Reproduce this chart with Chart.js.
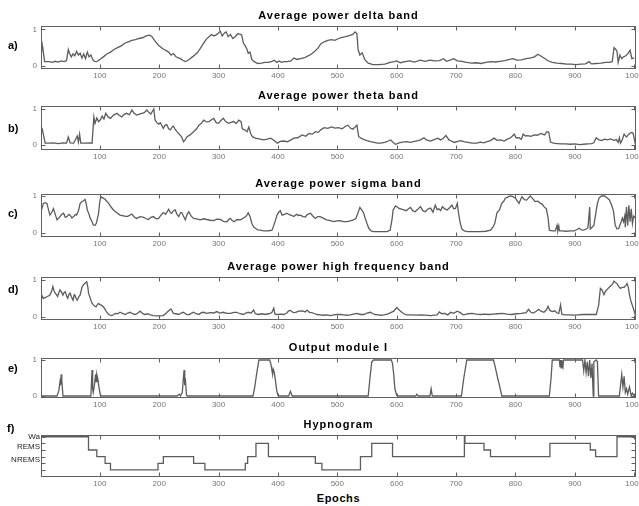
<!DOCTYPE html>
<html><head><meta charset="utf-8">
<script src="https://cdn.jsdelivr.net/npm/chart.js@4.4.1/dist/chart.umd.min.js"></script>
<style>
html,body{margin:0;padding:0;background:#fff;}
#wrap{position:relative;width:639px;height:506px;overflow:hidden;background:#fff;}
#wrap canvas{position:absolute;left:0;}
.lab{position:absolute;font:bold 11px "Liberation Sans",Arial,sans-serif;color:#000;line-height:12px;}
.ttl{position:absolute;left:41px;width:595px;text-align:center;font:bold 11px "Liberation Sans",Arial,sans-serif;color:#000;line-height:12px;letter-spacing:1px;white-space:nowrap;}
</style></head><body><div id="wrap"></div>
<script>
// ---------- DATA ----------
const titles = ['Average power delta band','Average power theta band','Average power sigma band','Average power high frequency band','Output module I','Hypnogram'];
const panelLetters = ['a)','b)','c)','d)','e)','f)'];
const epochTicks = [100,200,300,400,500,600,700,800,900,1000];
const unitTicks = [0,1];
const hypnoLevels = [1,2,3,4,5,6];
const hypnoLabelLevels = [2.5,4.5,6];
const hypnoLabelText = ['NREMS','REMS','Wa'];
const xAxisTitle = 'Epochs';

const deltaBand = [[1,0.4],[2,0.68],[4,0.5],[7,0.12],[15,0.12],[20,0.1],[25,0.13],[30,0.11],[35,0.14],[40,0.12],[44,0.15],[47,0.45],[49,0.35],[52,0.25],[55,0.33],[58,0.28],[61,0.4],[64,0.3],[67,0.35],[70,0.22],[73,0.33],[76,0.2],[79,0.38],[82,0.25],[85,0.3],[88,0.18],[91,0.13],[95,0.12],[100,0.18],[106,0.25],[112,0.33],[118,0.38],[124,0.45],[130,0.5],[136,0.55],[142,0.62],[148,0.66],[154,0.7],[160,0.72],[166,0.75],[172,0.77],[178,0.82],[184,0.84],[188,0.8],[192,0.7],[196,0.62],[200,0.55],[204,0.5],[208,0.45],[212,0.42],[216,0.38],[220,0.3],[224,0.34],[228,0.26],[232,0.22],[236,0.2],[240,0.15],[244,0.12],[248,0.15],[252,0.2],[256,0.25],[260,0.3],[264,0.36],[268,0.45],[272,0.55],[276,0.65],[280,0.74],[284,0.8],[288,0.86],[292,0.82],[296,0.85],[300,0.9],[303,0.95],[306,0.82],[310,0.9],[313,0.93],[316,0.8],[320,0.86],[324,0.75],[328,0.8],[332,0.88],[336,0.87],[339,0.84],[342,0.62],[345,0.55],[348,0.45],[350,0.35],[353,0.38],[356,0.18],[360,0.12],[366,0.07],[372,0.08],[378,0.1],[384,0.1],[390,0.13],[394,0.16],[398,0.1],[402,0.14],[406,0.1],[410,0.12],[416,0.12],[422,0.14],[427,0.22],[432,0.18],[438,0.2],[444,0.22],[450,0.27],[456,0.32],[462,0.4],[468,0.5],[472,0.6],[478,0.66],[484,0.7],[490,0.72],[496,0.7],[502,0.75],[508,0.78],[514,0.8],[520,0.83],[526,0.86],[530,0.93],[533,0.88],[535,0.45],[538,0.3],[542,0.36],[546,0.18],[552,0.08],[560,0.04],[570,0.04],[580,0.05],[589,0.1],[596,0.12],[600,0.14],[606,0.09],[614,0.12],[622,0.14],[630,0.11],[640,0.16],[648,0.13],[656,0.16],[664,0.14],[672,0.15],[679,0.2],[684,0.13],[690,0.16],[696,0.2],[702,0.14],[710,0.13],[718,0.1],[726,0.08],[734,0.09],[742,0.07],[750,0.1],[758,0.12],[766,0.11],[774,0.13],[782,0.15],[790,0.18],[796,0.2],[802,0.16],[810,0.17],[818,0.2],[826,0.22],[832,0.25],[838,0.32],[842,0.28],[848,0.22],[854,0.15],[862,0.1],[870,0.08],[878,0.07],[886,0.05],[894,0.05],[902,0.04],[910,0.05],[918,0.06],[924,0.12],[928,0.06],[936,0.07],[944,0.08],[952,0.1],[958,0.1],[963,0.12],[966,0.5],[969,0.45],[971,0.4],[973,0.1],[976,0.3],[979,0.2],[982,0.25],[986,0.28],[990,0.35],[993,0.43],[996,0.2],[1000,0.22]];

const thetaBand = [[1,0.5],[3,0.45],[8,0.05],[15,0.05],[22,0.06],[30,0.04],[38,0.06],[44,0.05],[47,0.22],[50,0.06],[56,0.05],[62,0.25],[64,0.08],[66,0.3],[68,0.05],[75,0.05],[82,0.06],[87,0.05],[90,0.78],[92,0.6],[95,0.75],[98,0.65],[101,0.7],[104,0.8],[107,0.72],[110,0.88],[114,0.78],[118,0.74],[123,0.83],[129,0.88],[133,0.82],[137,0.78],[141,0.85],[145,0.88],[150,0.84],[154,0.97],[158,0.88],[162,0.83],[167,0.86],[171,0.88],[175,0.9],[179,0.97],[183,0.9],[186,0.86],[191,1.0],[193,0.7],[196,0.62],[199,0.58],[202,0.62],[207,0.46],[210,0.55],[213,0.56],[216,0.45],[219,0.42],[222,0.5],[224,0.52],[227,0.43],[230,0.37],[235,0.28],[238,0.22],[241,0.09],[244,0.15],[247,0.23],[252,0.28],[258,0.37],[263,0.45],[267,0.55],[271,0.6],[275,0.69],[280,0.64],[284,0.65],[288,0.7],[292,0.74],[296,0.62],[300,0.6],[304,0.68],[308,0.74],[312,0.65],[317,0.6],[321,0.63],[325,0.65],[330,0.6],[334,0.69],[338,0.65],[340,0.45],[344,0.42],[348,0.37],[351,0.5],[354,0.32],[357,0.23],[362,0.19],[368,0.17],[376,0.14],[382,0.16],[388,0.19],[394,0.12],[399,0.05],[404,0.1],[410,0.11],[416,0.09],[422,0.14],[427,0.19],[433,0.2],[441,0.28],[447,0.24],[452,0.32],[458,0.3],[463,0.37],[468,0.35],[472,0.42],[478,0.48],[484,0.46],[490,0.5],[496,0.47],[502,0.48],[508,0.45],[514,0.52],[518,0.55],[522,0.47],[526,0.44],[530,0.5],[533,0.55],[536,0.23],[540,0.19],[545,0.15],[550,0.12],[556,0.09],[562,0.07],[568,0.05],[573,0.05],[580,0.07],[586,0.11],[590,0.14],[594,0.07],[598,0.02],[604,0.06],[610,0.08],[617,0.09],[623,0.07],[630,0.1],[636,0.12],[640,0.14],[646,0.2],[650,0.14],[657,0.11],[663,0.15],[669,0.19],[674,0.14],[678,0.18],[683,0.26],[688,0.14],[692,0.11],[697,0.07],[703,0.1],[708,0.12],[713,0.09],[720,0.07],[727,0.05],[735,0.05],[741,0.08],[747,0.06],[752,0.09],[758,0.12],[764,0.19],[769,0.13],[775,0.14],[781,0.11],[787,0.17],[792,0.2],[798,0.3],[801,0.2],[806,0.2],[810,0.16],[813,0.3],[817,0.25],[821,0.26],[826,0.24],[832,0.28],[837,0.27],[843,0.32],[849,0.28],[853,0.37],[856,0.36],[859,0.08],[864,0.05],[870,0.04],[877,0.03],[885,0.03],[892,0.02],[900,0.03],[908,0.01],[915,0.02],[922,0.03],[928,0.04],[932,0.06],[936,0.2],[940,0.15],[945,0.12],[950,0.16],[955,0.14],[960,0.17],[966,0.13],[970,0.15],[973,0.07],[975,0.2],[977,0.05],[980,0.15],[983,0.3],[987,0.22],[991,0.3],[995,0.35],[998,0.33],[1002,0.02]];

const sigmaBand = [[1,0.57],[5,0.8],[8,0.82],[11,0.8],[14,0.6],[16,0.48],[19,0.55],[22,0.66],[25,0.5],[28,0.35],[31,0.4],[33,0.44],[36,0.5],[39,0.53],[42,0.42],[45,0.44],[48,0.5],[50,0.48],[53,0.4],[56,0.44],[59,0.5],[61,0.48],[64,0.6],[67,0.8],[70,0.85],[73,0.87],[75,0.91],[77,0.8],[79,0.62],[82,0.5],[84,0.39],[87,0.3],[89,0.21],[92,0.2],[94,0.25],[96,0.38],[98,0.53],[100,0.85],[102,0.98],[105,0.95],[109,0.91],[112,0.85],[115,0.8],[119,0.7],[123,0.62],[128,0.55],[134,0.48],[140,0.46],[146,0.44],[150,0.47],[154,0.51],[158,0.43],[162,0.39],[168,0.44],[174,0.42],[178,0.38],[182,0.36],[186,0.42],[190,0.44],[195,0.38],[199,0.39],[203,0.48],[207,0.55],[211,0.5],[216,0.64],[219,0.55],[221,0.53],[224,0.6],[227,0.62],[230,0.5],[233,0.44],[236,0.55],[238,0.55],[241,0.45],[244,0.35],[247,0.5],[250,0.57],[254,0.45],[258,0.39],[263,0.38],[269,0.35],[275,0.38],[280,0.36],[286,0.34],[292,0.33],[297,0.37],[303,0.36],[308,0.31],[314,0.3],[317,0.36],[320,0.39],[323,0.33],[326,0.3],[331,0.36],[337,0.35],[342,0.4],[346,0.44],[350,0.54],[353,0.44],[356,0.26],[359,0.16],[362,0.12],[366,0.08],[370,0.07],[376,0.05],[382,0.05],[387,0.06],[390,0.07],[393,0.2],[396,0.35],[399,0.5],[402,0.57],[404,0.6],[407,0.48],[411,0.5],[415,0.53],[419,0.49],[423,0.47],[427,0.44],[431,0.5],[435,0.47],[438,0.48],[442,0.44],[446,0.43],[450,0.5],[455,0.53],[459,0.45],[463,0.39],[467,0.44],[471,0.44],[477,0.39],[482,0.35],[488,0.33],[494,0.3],[499,0.32],[505,0.33],[510,0.3],[516,0.3],[522,0.32],[527,0.35],[531,0.38],[534,0.5],[538,0.69],[541,0.62],[544,0.55],[547,0.39],[550,0.25],[553,0.12],[557,0.05],[561,0.03],[570,0.03],[578,0.03],[584,0.03],[589,0.07],[592,0.35],[594,0.62],[598,0.73],[601,0.7],[604,0.66],[608,0.64],[612,0.62],[616,0.6],[620,0.65],[623,0.69],[627,0.6],[631,0.57],[635,0.63],[640,0.71],[644,0.6],[648,0.57],[652,0.64],[657,0.67],[661,0.56],[665,0.75],[668,0.63],[671,0.65],[674,0.6],[677,0.71],[681,0.65],[685,0.62],[689,0.68],[693,0.75],[696,0.65],[699,0.66],[702,0.8],[704,0.55],[706,0.35],[708,0.2],[710,0.09],[714,0.05],[719,0.03],[730,0.03],[741,0.03],[750,0.04],[758,0.07],[762,0.15],[765,0.25],[769,0.55],[773,0.62],[777,0.8],[780,0.85],[783,0.94],[787,0.97],[791,1.0],[795,0.99],[800,0.94],[803,0.87],[806,0.8],[809,0.92],[811,0.98],[815,0.9],[819,0.89],[822,0.95],[825,1.0],[829,0.93],[833,0.85],[838,0.86],[842,0.8],[845,0.78],[848,0.71],[852,0.65],[855,0.4],[857,0.07],[862,0.05],[867,0.05],[870,0.2],[871,0.05],[873,0.18],[874,0.05],[878,0.05],[885,0.04],[893,0.05],[899,0.05],[903,0.08],[907,0.12],[911,0.08],[915,0.07],[919,0.1],[922,0.13],[925,0.7],[926,0.1],[929,0.15],[932,0.2],[935,0.5],[938,0.8],[941,0.95],[945,1.0],[950,1.0],[954,0.95],[958,0.9],[962,0.75],[965,0.6],[968,0.2],[971,0.1],[974,0.12],[978,0.3],[980,0.4],[982,0.3],[984,0.45],[985,0.15],[987,0.7],[989,0.2],[991,0.75],[993,0.3],[995,0.65],[997,0.25],[999,0.45],[1002,0.4]];

const highFreqBand = [[1,0.5],[2,0.59],[5,0.5],[8,0.52],[12,0.55],[16,0.59],[19,0.7],[21,0.82],[23,0.7],[25,0.64],[27,0.6],[29,0.55],[31,0.65],[33,0.73],[35,0.68],[38,0.59],[40,0.66],[42,0.68],[44,0.56],[46,0.5],[48,0.6],[50,0.64],[52,0.55],[55,0.45],[57,0.6],[58,0.59],[60,0.5],[62,0.45],[65,0.55],[67,0.59],[70,0.8],[72,0.86],[75,0.91],[78,0.95],[80,0.8],[81,0.64],[83,0.55],[85,0.45],[87,0.37],[89,0.32],[92,0.28],[94,0.27],[96,0.33],[98,0.36],[100,0.33],[102,0.32],[106,0.27],[109,0.2],[111,0.14],[115,0.06],[118,0.04],[120,0.03],[124,0.06],[126,0.09],[130,0.08],[134,0.12],[138,0.09],[143,0.06],[147,0.1],[151,0.12],[155,0.08],[160,0.06],[164,0.1],[168,0.15],[172,0.09],[176,0.06],[181,0.08],[185,0.05],[190,0.03],[196,0.02],[202,0.02],[207,0.03],[212,0.1],[216,0.16],[220,0.21],[224,0.09],[228,0.08],[233,0.06],[237,0.1],[241,0.12],[246,0.06],[250,0.05],[254,0.09],[258,0.12],[262,0.08],[267,0.06],[271,0.11],[275,0.12],[280,0.09],[286,0.11],[292,0.1],[297,0.14],[302,0.1],[308,0.12],[314,0.09],[320,0.09],[326,0.12],[331,0.12],[336,0.08],[342,0.06],[346,0.1],[350,0.12],[355,0.1],[359,0.18],[362,0.08],[367,0.06],[373,0.08],[379,0.06],[384,0.08],[387,0.09],[390,0.12],[393,0.23],[395,0.07],[399,0.06],[405,0.07],[410,0.06],[415,0.1],[418,0.16],[421,0.17],[426,0.11],[430,0.12],[435,0.15],[441,0.16],[446,0.13],[449,0.18],[453,0.12],[457,0.11],[462,0.08],[466,0.06],[471,0.05],[477,0.04],[483,0.05],[488,0.03],[494,0.05],[500,0.06],[505,0.06],[511,0.05],[516,0.04],[522,0.05],[527,0.07],[533,0.09],[539,0.06],[545,0.06],[550,0.1],[556,0.12],[560,0.08],[564,0.06],[569,0.05],[574,0.04],[578,0.05],[584,0.07],[590,0.11],[595,0.15],[600,0.25],[603,0.2],[607,0.14],[612,0.08],[617,0.05],[625,0.05],[633,0.04],[640,0.05],[648,0.04],[657,0.03],[663,0.04],[668,0.05],[672,0.13],[676,0.08],[681,0.09],[686,0.05],[691,0.12],[696,0.09],[702,0.15],[707,0.11],[712,0.05],[716,0.06],[720,0.08],[727,0.09],[734,0.07],[741,0.06],[748,0.07],[755,0.06],[762,0.07],[770,0.08],[778,0.09],[786,0.07],[794,0.06],[802,0.08],[810,0.09],[818,0.11],[822,0.2],[826,0.12],[830,0.1],[835,0.15],[839,0.2],[843,0.15],[848,0.12],[852,0.18],[855,0.28],[858,0.17],[862,0.14],[866,0.16],[870,0.1],[873,0.09],[876,0.32],[878,0.07],[882,0.05],[890,0.05],[898,0.04],[906,0.05],[914,0.06],[922,0.06],[930,0.06],[936,0.06],[940,0.3],[943,0.77],[946,0.72],[949,0.6],[952,0.7],[955,0.75],[958,0.8],[961,0.85],[964,0.9],[966,0.97],[968,0.94],[971,0.9],[974,0.82],[977,0.77],[980,0.8],[983,0.8],[986,0.85],[988,0.9],[990,0.8],[992,0.6],[994,0.45],[996,0.35],[998,0.25],[1000,0.15],[1002,0.05]];

const outputModule = [[1,0],[28,0],[31,0.15],[33,0.4],[34,0.3],[35,0.6],[36,0.45],[38,0],[85,0],[87,0.72],[88,0.2],[89,0.1],[91,0.3],[93,0.6],[94,0.4],[95,0.6],[97,0.45],[99,0.2],[101,0.03],[103,0],[230,0],[234,0.05],[236,0],[239,0.1],[241,0.55],[242,0.72],[243,0.3],[244,0.5],[246,0.02],[248,0],[358,0],[361,0.25],[364,0.6],[368,1.0],[386,1.0],[388,0.9],[389,0.8],[391,0.6],[392,0.75],[394,0.65],[396,0.4],[398,0.15],[400,0.02],[402,0],[418,0],[421,0.13],[424,0],[552,0],[555,0.5],[558,0.95],[561,1.0],[591,1.0],[593,0.9],[595,0.6],[597,0.2],[600,0.02],[603,0],[632,0],[634,0.05],[636,0],[656,0],[658,0.2],[660,0],[709,0],[713,0.5],[718,1.0],[763,1.0],[766,0.8],[770,0.5],[773,0.3],[777,0],[857,0],[860,0.5],[862,1.0],[874,1.0],[875,0.8],[876,1.0],[877,0.78],[878,1.0],[880,0.82],[881,1.0],[913,1.0],[915,0.7],[917,1.0],[919,0.65],[921,0.95],[923,0.55],[925,1.0],[927,0.5],[929,0.9],[931,0.0],[932,0.95],[936,1.0],[938,0.95],[940,0],[975,0],[977,0.3],[979,0.6],[981,0.25],[983,0.55],[985,0.1],[987,0.2],[989,0.05],[992,0.25],[995,0],[997,0.08],[1000,0]];

// hypnogram change points: [epoch, stage level] (6 = Wa, 5 = REMS, 4..1 = NREMS)
const hypnogram = [[1,6],[81,4],[95,3],[109,2],[118,1],[198,2],[207,3],[258,2],[277,1],[345,2],[349,3],[363,5],[384,3],[463,2],[474,1],[539,3],[558,5],[593,3],[714,6],[715,5],[747,4],[758,3],[858,5],[926,4],[935,3],[971,6],[1003,6]];

// ---------- RENDERING ----------
const FONT = '"Liberation Sans", Arial, Helvetica, sans-serif';
const LINE = '#5c5c5c';
const FRAME = '#606060';
const TICKC = '#777';
const wrap = document.getElementById('wrap');

const frameTicks = {
  id: 'frameTicks',
  afterDatasetsDraw(chart, args, opts) {
    const {ctx, chartArea: a, scales: {x, y}} = chart;
    const L = 4;
    const l = Math.round(a.left) + 0.5, r = Math.round(a.right) - 0.5;
    const t = Math.round(a.top) + 0.5, b = Math.round(a.bottom) - 0.5;
    ctx.save();
    ctx.strokeStyle = FRAME; ctx.lineWidth = 1;
    ctx.beginPath();
    (opts.xt || []).forEach(v => {
      const px = Math.round(x.getPixelForValue(v)) + 0.5;
      ctx.moveTo(px, b); ctx.lineTo(px, b - L);
      ctx.moveTo(px, t); ctx.lineTo(px, t + L);
    });
    (opts.yt || []).forEach(v => {
      const py = Math.round(y.getPixelForValue(v)) + 0.5;
      ctx.moveTo(l, py); ctx.lineTo(l + L, py);
      ctx.moveTo(r, py); ctx.lineTo(r - L, py);
    });
    ctx.stroke();
    ctx.strokeRect(l, t, r - l, b - t);
    ctx.restore();
  }
};

const panels = [
  {data: deltaBand,    top: 26,  bottom: 69,  ymin: -0.08, ymax: 1.09,  labelY: 45},
  {data: thetaBand,    top: 106, bottom: 150, ymin: -0.14, ymax: 1.083, labelY: 128},
  {data: sigmaBand,    top: 194, bottom: 237, ymin: -0.117,ymax: 1.055, labelY: 213},
  {data: highFreqBand, top: 277, bottom: 320, ymin: -0.09, ymax: 1.08,  labelY: 289},
  {data: outputModule, top: 358, bottom: 398, ymin: -0.056,ymax: 1.056, labelY: 368},
  {data: hypnogram,    top: 435, bottom: 477, ymin: -0.06, ymax: 6.26,  labelY: 428, hypno: true}
];

function addText(cls, txt, left, top) {
  const d = document.createElement('div');
  d.className = cls; d.textContent = txt;
  if (left !== null) d.style.left = left + 'px';
  d.style.top = top + 'px';
  wrap.appendChild(d);
}

panels.forEach((p, i) => {
  const TITLE_H = 22;
  const axisH = 14;
  const c = document.createElement('canvas');
  c.width = 639;
  c.height = (p.bottom - p.top) + TITLE_H + axisH;
  c.style.top = (p.top - TITLE_H) + 'px';
  wrap.appendChild(c);

  addText('lab', panelLetters[i], p.hypno ? 7 : 8, p.labelY - 6);
  addText('ttl', titles[i], null, p.top - 11 - 6);

  const yLabelVals = p.hypno ? hypnoLabelLevels : unitTicks;
  new Chart(c, {
    type: 'line',
    data: {datasets: [{
      data: p.data.map(([x, y]) => ({x, y})),
      borderColor: LINE, borderWidth: 1.3, pointRadius: 0, fill: false,
      tension: 0, stepped: p.hypno ? 'before' : false
    }]},
    options: {
      responsive: false, animation: false, events: [],
      layout: {padding: {left: 0, right: 3, top: TITLE_H, bottom: 0}},
      plugins: {
        legend: {display: false}, tooltip: {enabled: false}, title: {display: false},
        frameTicks: {xt: epochTicks, yt: p.hypno ? hypnoLevels : unitTicks}
      },
      scales: {
        x: {
          type: 'linear', min: 1, max: 1003,
          afterBuildTicks: s => { s.ticks = epochTicks.map(v => ({value: v})); },
          afterFit: s => { s.height = axisH; s.paddingLeft = 0; s.paddingRight = 0; },
          grid: {display: false, drawTicks: false}, border: {display: false},
          ticks: {font: {family: FONT, size: 8}, color: TICKC, padding: 2, maxRotation: 0, autoSkip: false,
            callback: v => String(v)}
        },
        y: {
          type: 'linear', min: p.ymin, max: p.ymax,
          afterBuildTicks: s => { s.ticks = yLabelVals.map(v => ({value: v})); },
          afterFit: s => { s.width = 41; },
          grid: {display: false, drawTicks: false}, border: {display: false},
          ticks: {font: {family: FONT, size: p.hypno ? 8 : 8}, color: p.hypno ? '#222' : TICKC,
            padding: p.hypno ? 1 : 4, autoSkip: false,
            callback: (v, idx) => p.hypno ? hypnoLabelText[idx] : String(v)}
        }
      }
    },
    plugins: [frameTicks]
  });
});

// x-axis title under the last panel
const ep = document.createElement('div');
ep.className = 'ttl'; ep.textContent = xAxisTitle;
ep.style.top = '492px'; ep.style.letterSpacing = '0.6px';
wrap.appendChild(ep);
</script>
</body></html>
